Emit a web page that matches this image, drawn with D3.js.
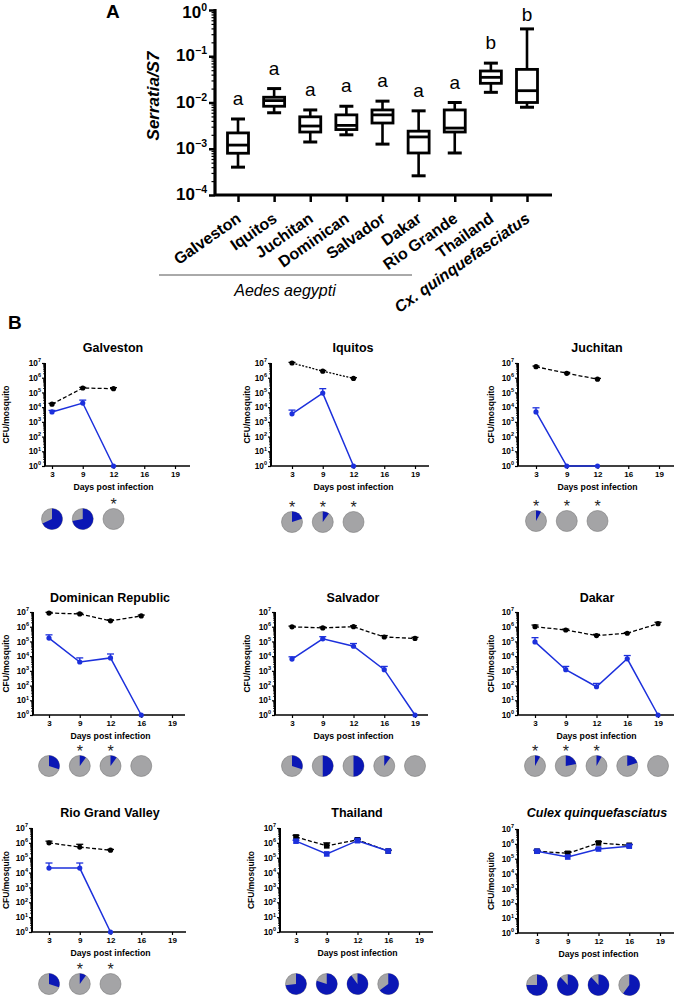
<!DOCTYPE html>
<html><head><meta charset="utf-8">
<script src="https://cdn.jsdelivr.net/npm/d3@7"></script>
<style>body{margin:0;background:#fff}svg{display:block;font-family:"Liberation Sans",Arial,sans-serif}</style>
</head><body><svg id="c" width="674" height="997"></svg>
<script>
// ---------- Panel A data ----------
const boxCategories = ["Galveston","Iquitos","Juchitan","Dominican","Salvador","Dakar","Rio Grande","Thailand","Cx. quinquefasciatus"];
const boxMin = [4.0e-4, 6.0e-3, 1.4e-3, 2.0e-3, 1.26e-3, 2.6e-4, 8.1e-4, 1.66e-2, 7.9e-3];
const boxQ1  = [8.0e-4, 8.3e-3, 2.3e-3, 2.6e-3, 3.6e-3, 8.1e-4, 2.3e-3, 2.6e-2, 1.0e-2];
const boxMed = [1.2e-3, 1.1e-2, 3.1e-3, 3.2e-3, 5.4e-3, 1.8e-3, 2.8e-3, 3.5e-2, 1.8e-2];
const boxQ3  = [2.2e-3, 1.3e-2, 4.9e-3, 5.4e-3, 6.9e-3, 2.4e-3, 6.9e-3, 4.8e-2, 5.2e-2];
const boxMax = [4.4e-3, 2.0e-2, 6.9e-3, 8.3e-3, 1.07e-2, 6.6e-3, 1.0e-2, 7.1e-2, 3.9e-1];
const boxLetters = ["a","a","a","a","a","a","a","b","b"];
const boxTickExp = [-4,-3,-2,-1,0];

// ---------- Panel B data ----------
const days = ["3","9","12","16","19"];
const panelTitles = ["Galveston","Iquitos","Juchitan","Dominican Republic","Salvador","Dakar","Rio Grand Valley","Thailand","Culex quinquefasciatus"];
const blackMean = [
  [1.6e4, 2.0e5, 1.8e5, null, null],
  [1.0e7, 2.8e6, 9.0e5, null, null],
  [5.6e6, 2.0e6, 8.0e5, null, null],
  [8.5e6, 7.4e6, 2.5e6, 5.4e6, null],
  [9.8e5, 8.3e5, 1.0e6, 2.0e5, 1.6e5],
  [1.0e6, 6.0e5, 2.5e5, 3.6e5, 1.6e6],
  [1.0e6, 5.2e5, 3.2e5, null, null],
  [2.5e6, 6.3e5, 1.6e6, 2.8e5, null],
  [3.2e5, 2.3e5, 1.15e6, 8.0e5, null]
];
const blackUpper = [
  [1.8e4, 2.2e5, 2.1e5, null, null],
  [1.1e7, 3.1e6, 1.0e6, null, null],
  [6.2e6, 2.3e6, 9.0e5, null, null],
  [9.5e6, 8.2e6, 2.9e6, 6.2e6, null],
  [1.1e6, 9.5e5, 1.15e6, 2.5e5, 1.9e5],
  [1.3e6, 6.8e5, 3.0e5, 4.0e5, 2.0e6],
  [1.3e6, 8.0e5, 3.6e5, null, null],
  [3.2e6, 1.0e6, 1.8e6, 3.1e5, null],
  [3.6e5, 3.0e5, 1.4e6, 9.0e5, null]
];
const blueMean = [
  [4.7e3, 1.9e4, 1, null, null],
  [3.5e3, 9.0e4, 1, null, null],
  [4.7e3, 1, 1, null, null],
  [1.7e5, 4.0e3, 7.6e3, 1, null],
  [6.3e3, 1.5e5, 4.7e4, 1.2e3, 1],
  [9.3e4, 1.2e3, 8.3e1, 6.6e3, 1],
  [2.0e4, 2.0e4, 1, null, null],
  [1.3e6, 1.8e5, 1.4e6, 2.8e5, null],
  [3.2e5, 1.3e5, 4.5e5, 7.0e5, null]
];
const blueUpper = [
  [6.0e3, 3.0e4, null, null, null],
  [6.3e3, 1.8e5, null, null, null],
  [9.0e3, null, null, null, null],
  [2.8e5, 7.6e3, 1.4e4, null, null],
  [9.0e3, 2.1e5, 7.2e4, 2.0e3, null],
  [1.8e5, 2.0e3, 1.4e2, 1.1e4, null],
  [4.4e4, 4.4e4, null, null, null],
  [1.5e6, 2.2e5, 2.0e6, 3.3e5, null],
  [3.8e5, 1.5e5, 5.0e5, 9.0e5, null]
];
const pieBlue = [
  [0.68, 0.72, 0],
  [0.2, 0.1, 0],
  [0.08, 0, 0],
  [0.3, 0.1, 0.1, 0],
  [0.3, 0.5, 0.5, 0.1, 0],
  [0.08, 0.22, 0.08, 0.2, 0],
  [0.3, 0.1, 0],
  [0.73, 0.8, 0.9, 0.65],
  [0.75, 0.88, 0.88, 0.6]
];
const pieStar = [
  [0,0,1],[1,1,1],[1,1,1],[0,1,1,0],[0,0,0,0,0],[1,1,1,0,0],[0,1,1],[0,0,0,0],[0,0,0,0]
];
const yTickExp = [0,1,2,3,4,5,6,7];

// ---------- layout ----------
const layouts = [
  {ax:45,  top:363, bot:466, xEnd:190, t0:52,  tx:113, ty:352, py:519, lx:6},
  {ax:271, top:363, bot:466, xEnd:429, t0:292, tx:353, ty:352, py:522, lx:247},
  {ax:518, top:363, bot:466, xEnd:674, t0:536, tx:597, ty:352, py:521, lx:491},
  {ax:33,  top:612, bot:715, xEnd:185, t0:49,  tx:110, ty:602, py:766, lx:6},
  {ax:275, top:612, bot:715, xEnd:428, t0:292, tx:353, ty:602, py:766, lx:247},
  {ax:518, top:612, bot:715, xEnd:674, t0:535, tx:597, ty:602, py:766, lx:491},
  {ax:32,  top:828, bot:932, xEnd:186, t0:49,  tx:110, ty:817, py:984, lx:6},
  {ax:280, top:828, bot:932, xEnd:433, t0:296, tx:357, ty:817, py:984, lx:251},
  {ax:518, top:829, bot:933, xEnd:674, t0:537, tx:597, ty:817, py:985, lx:491}
];
const BLUE = "#1c30dc", PIEBLUE = "#0b17b5", GREY = "#a4a4a6";

const svg = d3.select("#c");

// ================= Panel A =================
const gA = svg.append("g");
const yA = d3.scaleLog().domain([1e-4, 1]).range([195, 10]);
const xA = d3.scalePoint().domain(boxCategories).range([238, 527]);
const axA = 215;

gA.append("text").attr("x", 106).attr("y", 18).attr("font-size", 19).attr("font-weight", "bold").text("A");

// y axis
const yAxA = gA.append("g").attr("transform", `translate(${axA},0)`)
  .call(d3.axisLeft(yA).tickValues(boxTickExp.map(e => Math.pow(10, e))).tickSize(6).tickFormat(""));
yAxA.select(".domain").attr("stroke-width", 3.2).attr("d", `M0,${yA(1)-1}V${yA(1e-4)+1}`);
yAxA.selectAll(".tick line").attr("stroke-width", 2.5);
const minorA = [];
boxTickExp.slice(0, -1).forEach(e => { for (let m = 2; m < 10; m++) minorA.push(m * Math.pow(10, e)); });
gA.append("g").attr("transform", `translate(${axA},0)`)
  .call(d3.axisLeft(yA).tickValues(minorA).tickSize(3.5).tickFormat(""))
  .call(g => g.select(".domain").remove())
  .selectAll("line").attr("stroke-width", 1.2);
boxTickExp.forEach(e => {
  const t = gA.append("text").attr("x", axA - 8).attr("y", Math.max(yA(Math.pow(10, e)) + 5, 18))
    .attr("text-anchor", "end").attr("font-size", 17).attr("font-weight", "bold");
  t.append("tspan").text("10");
  t.append("tspan").attr("font-size", 10.5).attr("dy", -7).text(String(e).replace("-", "\u2212"));
});
gA.append("text").attr("transform", `translate(159,96) rotate(-90)`).attr("text-anchor", "middle")
  .attr("font-size", 17).attr("font-weight", "bold").attr("font-style", "italic").text("Serratia/S7");

// x axis
gA.append("line").attr("x1", axA).attr("x2", 552).attr("y1", 195).attr("y2", 195).attr("stroke", "#000").attr("stroke-width", 3.2);
const xAxA = gA.append("g").attr("transform", "translate(0,195)").call(d3.axisBottom(xA).tickSize(7).tickFormat(""));
xAxA.select(".domain").remove();
xAxA.selectAll(".tick line").attr("stroke-width", 2.5);

boxCategories.forEach((c, i) => {
  const cx = xA(c);
  const italic = c.startsWith("Cx");
  gA.append("text").attr("transform", `translate(${cx + 4},221) rotate(-35)`)
    .attr("text-anchor", "end").attr("font-size", 16).attr("font-weight", "bold")
    .attr("font-style", italic ? "italic" : "normal").text(c);
  const g = gA.append("g").attr("stroke", "#000").attr("fill", "none");
  g.append("line").attr("x1", cx).attr("x2", cx).attr("y1", yA(boxMax[i])).attr("y2", yA(boxQ3[i])).attr("stroke-width", 2.6);
  g.append("line").attr("x1", cx).attr("x2", cx).attr("y1", yA(boxQ1[i])).attr("y2", yA(boxMin[i])).attr("stroke-width", 2.6);
  [boxMax[i], boxMin[i]].forEach(v => g.append("line").attr("x1", cx - 7).attr("x2", cx + 7).attr("y1", yA(v)).attr("y2", yA(v)).attr("stroke-width", 3));
  g.append("rect").attr("x", cx - 10.5).attr("width", 21).attr("y", yA(boxQ3[i])).attr("height", yA(boxQ1[i]) - yA(boxQ3[i]))
    .attr("fill", "#fff").attr("stroke-width", 2.8);
  g.append("line").attr("x1", cx - 10.5).attr("x2", cx + 10.5).attr("y1", yA(boxMed[i])).attr("y2", yA(boxMed[i])).attr("stroke-width", 2.8);
  gA.append("text").attr("x", cx).attr("y", Math.max(yA(boxMax[i]) - 14, 21)).attr("text-anchor", "middle").attr("font-size", 19).text(boxLetters[i]);
});
gA.append("line").attr("x1", 159).attr("x2", 412).attr("y1", 275).attr("y2", 275).attr("stroke", "#555").attr("stroke-width", 1);
gA.append("text").attr("x", 285).attr("y", 296).attr("text-anchor", "middle").attr("font-size", 16).attr("font-style", "italic").text("Aedes aegypti");

// ================= Panel B =================
svg.append("text").attr("x", 8).attr("y", 329).attr("font-size", 19).attr("font-weight", "bold").text("B");

const pie = d3.pie().sort(null).value(d => d);
const arc = d3.arc().innerRadius(0).outerRadius(10.5);

panelTitles.forEach((title, i) => {
  const L = layouts[i];
  const g = svg.append("g");
  const y = d3.scaleLog().domain([1, 1e7]).range([L.bot, L.top]);
  const x = d3.scalePoint().domain(days).range([L.t0, L.t0 + 123]);

  g.append("text").attr("x", L.tx).attr("y", L.ty).attr("text-anchor", "middle").attr("font-size", 12.5)
    .attr("font-weight", "bold").attr("font-style", i === 8 ? "italic" : "normal").text(title);

  // y axis
  const ya = g.append("g").attr("transform", `translate(${L.ax},0)`)
    .call(d3.axisLeft(y).tickValues(yTickExp.map(e => Math.pow(10, e))).tickSize(3).tickFormat(""));
  ya.select(".domain").attr("stroke-width", 2).attr("d", `M0,${L.top}V${L.bot}`);
  ya.selectAll(".tick line").attr("stroke-width", 1.2);
  const minor = [];
  yTickExp.slice(0, -1).forEach(e => { for (let m = 2; m < 10; m++) minor.push(m * Math.pow(10, e)); });
  g.append("g").attr("transform", `translate(${L.ax},0)`)
    .call(d3.axisLeft(y).tickValues(minor).tickSize(2).tickFormat(""))
    .call(s => s.select(".domain").remove())
    .selectAll("line").attr("stroke-width", 0.8);
  yTickExp.forEach(e => {
    const t = g.append("text").attr("x", L.ax - 4).attr("y", y(Math.pow(10, e)) + 3.2)
      .attr("text-anchor", "end").attr("font-size", 8.3).attr("font-weight", "bold");
    t.append("tspan").text("10");
    t.append("tspan").attr("font-size", 5.5).attr("dy", -3.8).text(e);
  });
  g.append("text").attr("transform", `translate(${L.lx + 3},${(L.top + L.bot) / 2}) rotate(-90)`)
    .attr("text-anchor", "middle").attr("font-size", 8.5).attr("font-weight", "bold").text("CFU/mosquito");

  // x axis
  g.append("line").attr("x1", L.ax - 1).attr("x2", L.xEnd).attr("y1", L.bot).attr("y2", L.bot).attr("stroke", "#000").attr("stroke-width", 1.6);
  const xa = g.append("g").attr("transform", `translate(0,${L.bot})`)
    .call(d3.axisBottom(x).tickSize(3).tickPadding(2));
  xa.select(".domain").remove();
  xa.selectAll(".tick line").attr("stroke-width", 1.2);
  xa.selectAll("text").attr("font-size", 8).attr("font-weight", "bold").attr("font-family", "Liberation Sans, Arial, sans-serif").attr("fill", "#000");
  g.append("text").attr("x", (L.t0 + L.t0 + 123) / 2).attr("y", L.bot + 24).attr("text-anchor", "middle")
    .attr("font-size", 8.7).attr("font-weight", "bold").text("Days post infection");

  const series = (vals) => vals.map((v, j) => v == null ? null : {v, j});
  const defined = d3.line().defined(d => d != null).x(d => x(days[d.j])).y(d => y(d.v));

  const square = (i >= 7);
  [[blackMean[i], blackUpper[i], "#000", i === 1 ? "2,1.5" : "4,2.2", 1.3],
   [blueMean[i], blueUpper[i], BLUE, null, 1.5]].forEach(([m, u, col, dash, w]) => {
    const pts = series(m);
    u.forEach((uv, j) => {
      if (uv == null || m[j] == null) return;
      const xx = x(days[j]);
      g.append("line").attr("x1", xx).attr("x2", xx).attr("y1", y(m[j])).attr("y2", y(uv)).attr("stroke", col).attr("stroke-width", 1.3);
      g.append("line").attr("x1", xx - 3.5).attr("x2", xx + 3.5).attr("y1", y(uv)).attr("y2", y(uv)).attr("stroke", col).attr("stroke-width", 1.3);
    });
    g.append("path").attr("d", defined(pts)).attr("fill", "none").attr("stroke", col).attr("stroke-width", w)
      .attr("stroke-dasharray", dash);
    pts.filter(d => d).forEach(d => {
      if (square) g.append("rect").attr("x", x(days[d.j]) - 2.8).attr("y", y(d.v) - 2.8).attr("width", 5.6).attr("height", 5.6).attr("fill", col);
      else g.append("circle").attr("cx", x(days[d.j])).attr("cy", y(d.v)).attr("r", 2.6).attr("fill", col);
    });
  });

  // pies
  pieBlue[i].forEach((b, j) => {
    const pg = g.append("g").attr("transform", `translate(${x(days[j])},${L.py})`);
    pg.append("circle").attr("r", 10.5).attr("fill", GREY).attr("stroke", "#7a7a7a").attr("stroke-width", 0.6);
    if (b > 0) {
      const arcs = pie([b, 1 - b]);
      pg.append("path").attr("d", arc(arcs[0])).attr("fill", PIEBLUE);
    }
    if (pieStar[i][j]) {
      g.append("text").attr("x", x(days[j])).attr("y", L.py - 9).attr("text-anchor", "middle")
        .attr("font-size", 16).attr("fill", "#222").text("*");
    }
  });
});
</script></body></html>
